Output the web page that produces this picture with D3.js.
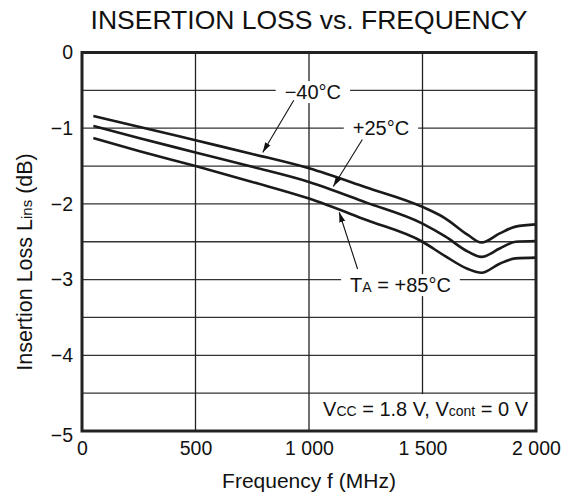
<!DOCTYPE html>
<html>
<head>
<meta charset="utf-8">
<script src="https://cdn.jsdelivr.net/npm/d3@7"></script>
<style>
  body { margin: 0; background: #fff; }
  svg text { font-family: "Liberation Sans", Arial, Helvetica, sans-serif; fill: #111; }
</style>
</head>
<body>
<svg width="571" height="497"></svg>
<script>
// Data
const freq = [50, 250, 500, 750, 1000, 1250, 1500, 1600, 1700, 1760, 1840, 1910, 2000];
const lossM40 = [-0.84, -0.98, -1.16, -1.34, -1.53, -1.78, -2.04, -2.19, -2.41, -2.51, -2.39, -2.30, -2.27];
const lossP25 = [-0.97, -1.13, -1.32, -1.51, -1.71, -1.98, -2.26, -2.43, -2.63, -2.70, -2.59, -2.50, -2.49];
const lossP85 = [-1.13, -1.30, -1.50, -1.71, -1.93, -2.21, -2.50, -2.69, -2.86, -2.91, -2.79, -2.72, -2.71];

const xTicks = [0, 500, 1000, 1500, 2000];
const xTickLabels = ['0', '500', '1 000', '1 500', '2 000'];
const yTicks = [0, -1, -2, -3, -4, -5];
const yTickLabels = ['0', '\u22121', '\u22122', '\u22123', '\u22124', '\u22125'];
const yGrid = [-0.5, -1, -1.5, -2, -2.5, -3, -3.5, -4, -4.5];
const xGrid = [500, 1000, 1500];

// label text, label position (f, dB), arrow from/to (f, dB)
const notes = [
  {text: '\u221240\u00b0C', f: 1017, v: -0.52, from: [933, -0.63], to: [796, -1.32]},
  {text: '+25\u00b0C', f: 1317, v: -1.0, from: [1235, -1.15], to: [1107, -1.77]},
  {text: 'T|A| = +85\u00b0C', f: 1403, v: -3.07, from: [1214, -2.86], to: [1133, -2.11]}
];

const svg = d3.select('svg');
const margin = {top: 52.5, right: 35, bottom: 66, left: 82};
const width = 571 - margin.left - margin.right;
const height = 497 - margin.top - margin.bottom;
const g = svg.append('g').attr('transform', `translate(${margin.left},${margin.top})`);

const x = d3.scaleLinear().domain([0, 2000]).range([0, width]);
const y = d3.scaleLinear().domain([0, -5]).range([0, height]);

// Title
svg.append('text')
  .attr('x', 309).attr('y', 28.5)
  .attr('text-anchor', 'middle')
  .style('font-size', '26.5px')
  .text('INSERTION LOSS vs. FREQUENCY');

// Grid
g.append('g').selectAll('line').data(yGrid).enter().append('line')
  .attr('x1', 0).attr('x2', width)
  .attr('y1', d => y(d)).attr('y2', d => y(d))
  .attr('stroke', '#333').attr('stroke-width', 1.3);
g.append('g').selectAll('line').data(xGrid).enter().append('line')
  .attr('y1', 0).attr('y2', height)
  .attr('x1', d => x(d)).attr('x2', d => x(d))
  .attr('stroke', '#222').attr('stroke-width', 1.3);

// helper for text with subscript, written as 'Main|sub|rest'
function richText (sel, str, subSize) {
  const parts = str.split('|');
  parts.forEach((p, i) => {
    sel.append('tspan')
      .style('font-size', i % 2 === 1 ? subSize : null)
      .text(p);
  });
}

// Annotation labels (white box breaks the grid line)
const noteG = g.append('g');
notes.forEach(n => {
  const t = noteG.append('text')
    .attr('x', x(n.f)).attr('y', y(n.v))
    .attr('dy', '0.36em')
    .attr('text-anchor', 'middle')
    .style('font-size', '20px');
  richText(t, n.text, '14px');
  const bb = t.node().getBBox();
  noteG.insert('rect', () => t.node())
    .attr('x', bb.x - 9).attr('y', bb.y)
    .attr('width', bb.width + 18).attr('height', bb.height)
    .attr('fill', '#fff');
});

// Condition box
const condG = g.append('g');
const cond = condG.append('text')
  .attr('x', width - 8).attr('y', y(-4.5) + 23)
  .attr('text-anchor', 'end')
  .style('font-size', '20px');
richText(cond, 'V|CC| = 1.8 V, V|cont| = 0 V', '14px');
const cb = cond.node().getBBox();
condG.insert('rect', () => cond.node())
  .attr('x', cb.x - 4).attr('y', y(-4.5) + 1)
  .attr('width', width - cb.x + 4).attr('height', height - y(-4.5) - 1)
  .attr('fill', '#fff');

// Curves
const line = d3.line()
  .x(d => x(d[0]))
  .y(d => y(d[1]))
  .curve(d3.curveMonotoneX);

[lossM40, lossP25, lossP85].forEach(series => {
  g.append('path')
    .attr('d', line(freq.map((f, i) => [f, series[i]])))
    .attr('fill', 'none')
    .attr('stroke', '#1a1a1a')
    .attr('stroke-width', 2.6);
});

// Arrows
svg.append('defs').append('marker')
  .attr('id', 'arrow')
  .attr('viewBox', '0 0 10 10')
  .attr('refX', 10).attr('refY', 5)
  .attr('markerWidth', 10).attr('markerHeight', 10)
  .attr('markerUnits', 'userSpaceOnUse')
  .attr('orient', 'auto')
  .append('path')
  .attr('d', 'M0,2 L10,5 L0,8 Z')
  .attr('fill', '#111');

g.append('g').selectAll('line').data(notes).enter().append('line')
  .attr('x1', d => x(d.from[0])).attr('y1', d => y(d.from[1]))
  .attr('x2', d => x(d.to[0])).attr('y2', d => y(d.to[1]))
  .attr('stroke', '#111').attr('stroke-width', 1.1)
  .attr('marker-end', 'url(#arrow)');

// Frame
g.append('rect')
  .attr('width', width).attr('height', height)
  .attr('fill', 'none')
  .attr('stroke', '#222').attr('stroke-width', 3);

// Axes
const xAxis = g.append('g')
  .attr('transform', `translate(0,${height})`)
  .call(d3.axisBottom(x).tickValues(xTicks).tickSize(0).tickPadding(10)
    .tickFormat((d, i) => xTickLabels[i]));
xAxis.select('.domain').remove();
xAxis.selectAll('text').style('font-size', '19.5px').attr('fill', '#111');

const yAxis = g.append('g')
  .call(d3.axisLeft(y).tickValues(yTicks).tickSize(0).tickPadding(9)
    .tickFormat((d, i) => yTickLabels[i]));
yAxis.select('.domain').remove();
yAxis.selectAll('text').style('font-size', '19.5px').attr('fill', '#111')
  .attr('dy', d => d === -5 ? '0.55em' : '0.32em');

// Axis titles
svg.append('text')
  .attr('x', margin.left + width / 2).attr('y', 488)
  .attr('text-anchor', 'middle')
  .style('font-size', '21px')
  .text('Frequency  f (MHz)');

const yt = svg.append('text')
  .attr('transform', 'translate(32,262) rotate(-90)')
  .attr('text-anchor', 'middle')
  .style('font-size', '21.5px');
richText(yt, 'Insertion Loss  L|ins| (dB)', '15px');
</script>
</body>
</html>
